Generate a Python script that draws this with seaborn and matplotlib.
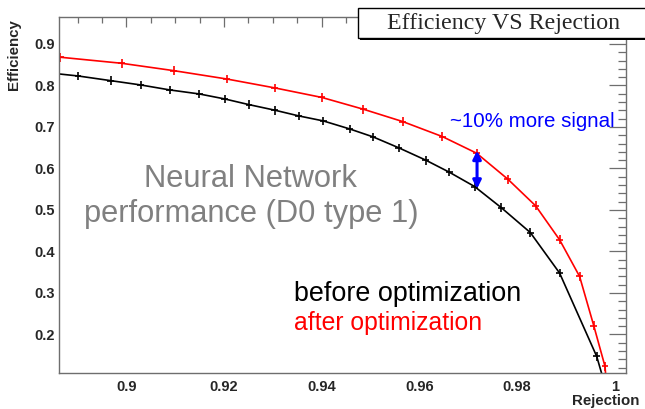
import matplotlib
matplotlib.use('Agg')
import matplotlib.pyplot as plt
from matplotlib.patches import Rectangle
from matplotlib.ticker import MultipleLocator, FuncFormatter
import pandas as pd
import seaborn as sns

# efficiency vs background rejection
rej_before = [0.8840, 0.8901, 0.8968, 0.9029, 0.9089, 0.9149, 0.9201, 0.9251,
              0.9304, 0.9353, 0.9403, 0.9457, 0.9505, 0.9558, 0.9613, 0.9661,
              0.9713, 0.9768, 0.9827, 0.9887, 0.9963, 0.9982]
eff_before = [0.8305, 0.8229, 0.8116, 0.8013, 0.7892, 0.7796, 0.7676, 0.7538,
              0.7404, 0.7266, 0.7146, 0.6953, 0.6761, 0.6496, 0.6200, 0.5911,
              0.5564, 0.5051, 0.4456, 0.3479, 0.1471, 0.0700]
rej_after = [0.8865, 0.8990, 0.9097, 0.9205, 0.9304, 0.9400, 0.9485, 0.9566,
             0.9647, 0.9717, 0.9781, 0.9838, 0.9887, 0.9928, 0.9957, 0.9980,
             0.9984]
eff_after = [0.8680, 0.8535, 0.8357, 0.8157, 0.7941, 0.7712, 0.7428, 0.7129,
             0.6768, 0.6368, 0.5742, 0.5099, 0.4281, 0.3397, 0.2210, 0.1230,
             0.0650]
EFF_ERR = 0.0105
REJ_ERR = 0.0007

df = pd.concat([
    pd.DataFrame({'rejection': rej_before, 'efficiency': eff_before, 'sample': 'before'}),
    pd.DataFrame({'rejection': rej_after, 'efficiency': eff_after, 'sample': 'after'}),
])
colors = {'before': 'black', 'after': 'red'}

sns.set_style('white')
plt.rcParams['font.family'] = ['Liberation Sans', 'DejaVu Sans']

W, H = 645, 409
fig = plt.figure(figsize=(W / 100, H / 100), dpi=100)
ax = fig.add_axes([59 / W, 1 - 373 / H, (626 - 59) / W, (373 - 17) / H])

sns.lineplot(data=df, x='rejection', y='efficiency', hue='sample', palette=colors,
             sort=False, estimator=None, legend=False, lw=1.2, ax=ax)
for name, g in df.groupby('sample'):
    ax.errorbar(g['rejection'], g['efficiency'], xerr=REJ_ERR, yerr=EFF_ERR,
                fmt='none', ecolor=colors[name], elinewidth=1.2, capsize=0)

ax.set_xlim(0.8862, 1.0023)
ax.set_ylim(0.107, 0.965)
ax.xaxis.set_major_locator(MultipleLocator(0.02))
ax.xaxis.set_minor_locator(MultipleLocator(0.005))
ax.yaxis.set_major_locator(MultipleLocator(0.1))
ax.yaxis.set_minor_locator(MultipleLocator(0.02))
fmt = FuncFormatter(lambda v, p: '%g' % round(v, 3))
ax.xaxis.set_major_formatter(fmt)
ax.yaxis.set_major_formatter(fmt)

frame = '#6e6e6e'
for s in ax.spines.values():
    s.set_color(frame)
    s.set_linewidth(1.0)
ax.tick_params(axis='both', which='both', direction='in', top=True, right=True,
               color=frame, width=0.9, labelsize=10.5)
ax.tick_params(axis='x', which='major', length=7.2, pad=5)
ax.tick_params(axis='x', which='minor', length=4.3)
ax.tick_params(axis='y', which='major', length=12, pad=3)
ax.tick_params(axis='y', which='minor', length=6)
for lab in ax.get_xticklabels() + ax.get_yticklabels():
    lab.set_fontweight('bold')
ax.set_xlabel('')
ax.set_ylabel('')

fig.text(14 / W, 1 - 19 / H, 'Efficiency', rotation=90, ha='center', va='top',
         fontsize=10.8, fontweight='bold')
fig.text(639 / W, 1 - 405 / H, 'Rejection', ha='right', va='baseline',
         fontsize=10.8, fontweight='bold')

# annotations
ax.text(0.9255, 0.5564, 'Neural Network', ha='center', va='baseline',
        fontsize=22.2, color='#808080')
ax.text(0.9255, 0.4721, 'performance (D0 type 1)', ha='center', va='baseline',
        fontsize=22.2, color='#808080')
ax.text(0.9343, 0.2795, 'before optimization', ha='left', va='baseline',
        fontsize=19.4, color='black')
ax.text(0.9343, 0.2114, 'after optimization', ha='left', va='baseline',
        fontsize=17.8, color='red')
ax.text(0.9662, 0.6994, '~10% more signal', ha='left', va='baseline',
        fontsize=14.8, color='blue')
ax.annotate('', xy=(0.9718, 0.551), xytext=(0.9718, 0.643),
            arrowprops=dict(arrowstyle='<|-|>', color='blue', lw=2.2,
                            mutation_scale=12, shrinkA=0, shrinkB=0))

# title box in ROOT style
fig.patches.append(Rectangle((358 / W, 1 - 38 / H), (647 - 358) / W, 30 / H,
                             transform=fig.transFigure, facecolor='white',
                             edgecolor='black', lw=1.0, zorder=5))
fig.patches.append(Rectangle((360 / W, 1 - 39.5 / H), (647 - 360) / W, 1.5 / H,
                             transform=fig.transFigure, facecolor='black',
                             edgecolor='none', zorder=5))
fig.text(504 / W, 1 - 29.3 / H, 'Efficiency VS Rejection', ha='center',
         va='baseline', fontsize=17.2, family=['Liberation Serif', 'DejaVu Serif'],
         zorder=6)

fig.savefig('out.png', dpi=100)
